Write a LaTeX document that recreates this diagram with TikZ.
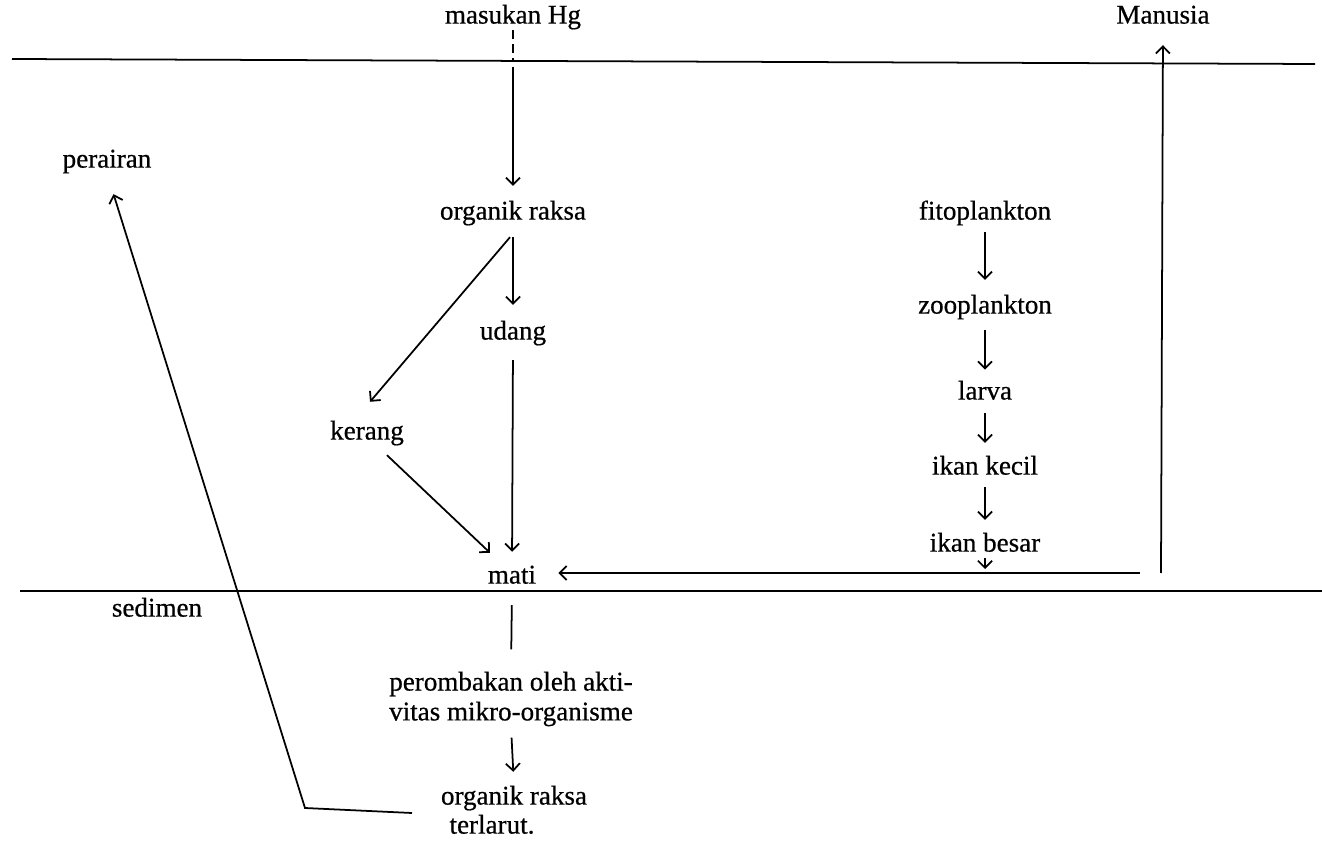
\documentclass[tikz,border=0pt]{standalone}
\usepackage{fontspec}
\setmainfont{Liberation Serif}
\newfontfamily\heavyserif{Liberation Serif}[FakeBold=0.6]
\usetikzlibrary{arrows.meta}
\begin{document}
\begin{tikzpicture}[x=0.02cm,y=-0.02cm,
  txt/.style={inner sep=0pt, font=\heavyserif\fontsize{15.4}{17}\selectfont},
  lbl/.style={txt, text height=10.5pt, text depth=3pt},
  ln/.style={line width=1pt},
  arr/.style={ln, -{Straight Barb[length=4pt,width=8pt]}}]
\useasboundingbox (0,0) rectangle (1322,844);

% boundary lines
\coordinate (tl) at (12,59);
\coordinate (tr) at (1315,64);
\coordinate (bl) at (20,591);
\coordinate (br) at (1322,591);
\draw[ln] (tl) -- (tr);
\draw[ln] (bl) -- (br);

% labels
\node[lbl] (hg) at (513,17) {masukan Hg};
\node[lbl] (man) at (1163,17) {Manusia};
\node[lbl] (per) at (107,161) {perairan};
\node[lbl] (or1) at (513,213) {organik raksa};
\node[lbl] (udang) at (513,333) {udang};
\node[lbl] (kerang) at (367,433) {kerang};
\node[lbl] (mati) at (512,577) {mati};
\node[lbl] (fito) at (985,213) {fitoplankton};
\node[lbl] (zoo) at (985,307) {zooplankton};
\node[lbl] (larva) at (985,393) {larva};
\node[lbl] (kecil) at (985,468) {ikan kecil};
\node[lbl] (besar) at (985,545) {ikan besar};
\node[lbl] (sed) at (157,610) {sedimen};
\node[txt, align=center] (rom) at (511,699) {perombakan oleh akti-\\vitas mikro-organisme};
\node[lbl] (or2a) at (514,798) {organik raksa};
\node[lbl] (or2b) at (492,827) {terlarut.};

% free-end coordinates
\coordinate (hgA) at (513,60);
\coordinate (hgB) at (513,67);
\coordinate (hstart) at (1140,573);
\coordinate (mbot) at (1161,573);
\coordinate (bend) at (985,569);
\coordinate (pstart) at (412,813);
\coordinate (pcorner) at (305,808);

% connectors
\draw[ln, dash pattern=on 5pt off 3pt, shorten <=0.6pt] (hg.south) -- (hgA);
\draw[arr, shorten >=8.5pt] (hgB) -- (or1.north);
\draw[arr, shorten <=6.8pt, shorten >=9.1pt] (or1.south) -- (udang.north);
\draw[arr] ([shift={(-3,12)}]or1.south) -- ([shift={(3,-19)}]kerang.north);
\draw[arr, shorten <=8.5pt, shorten >=7.4pt] (udang.south) -- (mati.north);
\draw[arr] ([shift={(20,10)}]kerang.south) -- ([shift={(-22,-12)}]mati.north);
\draw[arr] (hstart) -- ([shift={(22,-4)}]mati.east);
\draw[arr, shorten >=9.1pt] (mbot) -- (man.south);

\draw[arr, shorten <=4pt, shorten >=8.5pt] (fito.south) -- (zoo.north);
\draw[arr, shorten <=6.3pt, shorten >=6.3pt] (zoo.south) -- (larva.north);
\draw[arr, shorten <=4.5pt, shorten >=7.4pt] (larva.south) -- (kecil.north);
\draw[arr, shorten <=4pt, shorten >=7.4pt] (kecil.south) -- (besar.north);
\draw[arr, shorten <=0.6pt] (besar.south) -- (bend);

\draw[ln, shorten <=9.1pt, shorten >=12.5pt] (mati.south) -- (rom.north);
\draw[arr, shorten <=6.3pt, shorten >=8pt] (rom.south) -- (or2a.north);
\draw[arr, shorten >=12.5pt] (pstart) -- (pcorner) -- (per.south);
\end{tikzpicture}
\end{document}
